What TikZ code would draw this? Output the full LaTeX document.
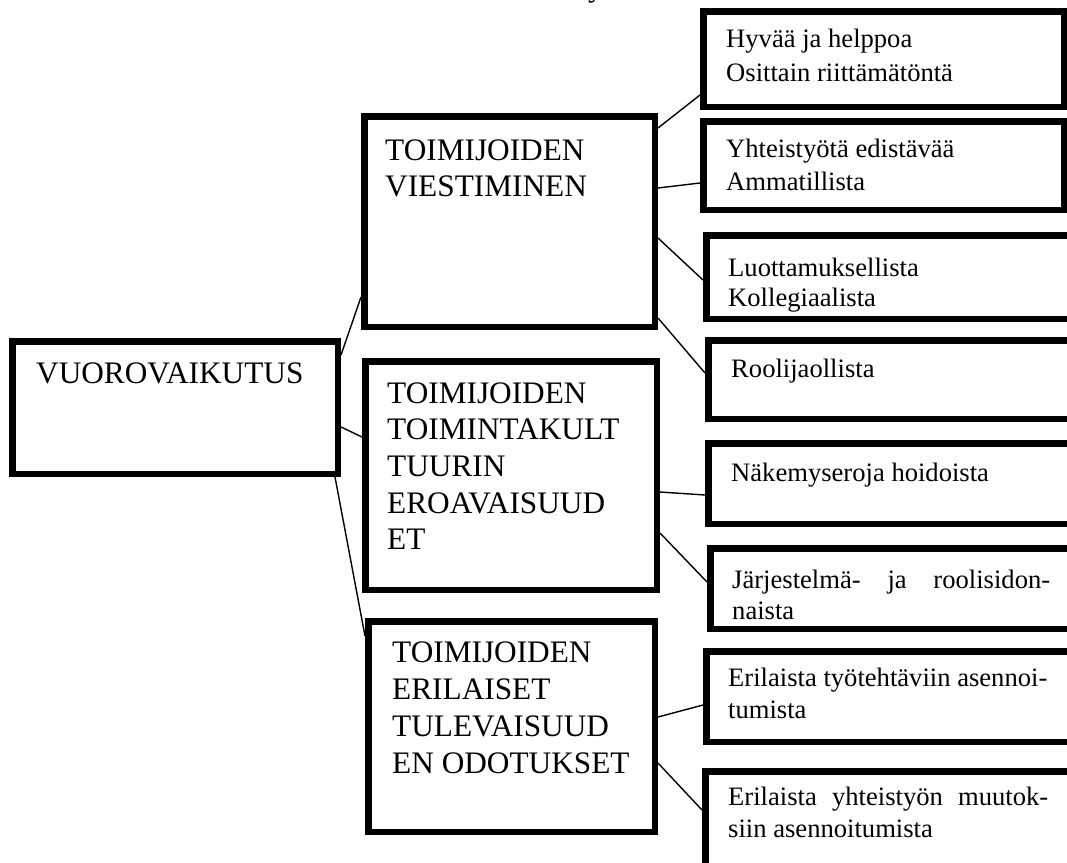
\documentclass[tikz,border=0pt]{standalone}
\usepackage{fontspec}
\setmainfont{Liberation Serif}
\begin{document}
\begin{tikzpicture}[x=1pt,y=-1pt,
  box/.style={draw, fill=white, line width=6.5pt, inner sep=0pt, outer sep=3.25pt, anchor=north west},
  link/.style={line width=1.4pt},
  txt/.style={anchor=base west, inner sep=0pt, align=left},
  big/.style={font=\fontsize{31.3}{36.7}\selectfont}]
\useasboundingbox (0,0) rectangle (1067,862);
\clip (0,0) rectangle (1067,862);

% boxes (outer top-left corner, inner path size)
\node[box, minimum width=325.5pt, minimum height=132.5pt] (root) at (9,338) {};
\node[box, minimum width=290.5pt, minimum height=210.5pt] (v) at (361,113) {};
\node[box, minimum width=291.5pt, minimum height=228.5pt] (t) at (362,358) {};
\node[box, minimum width=286.5pt, minimum height=210.5pt] (e) at (365,618) {};

\node[box, minimum width=360.5pt, minimum height=95.5pt] (b1) at (700,8) {};
\node[box, minimum width=360.5pt, minimum height=88.5pt] (b2) at (700,118) {};
\node[box, minimum width=366.5pt, minimum height=83.5pt] (b3) at (703,232) {};
\node[box, minimum width=364.5pt, minimum height=78.5pt] (b4) at (705,337) {};
\node[box, minimum width=364.5pt, minimum height=80.5pt] (b5) at (705,440) {};
\node[box, minimum width=359.5pt, minimum height=80.5pt] (b6) at (707,545) {};
\node[box, minimum width=366.5pt, minimum height=90.5pt] (b7) at (703,648) {};
\node[box, minimum width=367.5pt, minimum height=105.5pt] (b8) at (702,768) {};

% connectors
\draw[link] ([yshift=-17pt]root.north east) -- ([yshift=33pt]v.south west);
\draw[link] ([yshift=-89pt]root.north east) -- ([yshift=-79pt]t.north west);
\draw[link] ([xshift=-6pt]root.south east) -- ([yshift=-18pt]e.north west);

\draw[link] ([yshift=-15pt]v.north east) -- ([yshift=15pt]b1.south west);
\draw[link] ([yshift=-75pt]v.north east) -- ([yshift=-65pt]b2.north west);
\draw[link] ([yshift=92pt]v.south east) -- ([yshift=-48pt]b3.north west);
\draw[link] ([yshift=12pt]v.south east) -- ([yshift=-36pt]b4.north west);

\draw[link] ([yshift=-134pt]t.north east) -- ([yshift=-55pt]b5.north west);
\draw[link] ([yshift=-175pt]t.north east) -- ([yshift=-37pt]b6.north west);

\draw[link] ([yshift=-99pt]e.north east) -- ([yshift=-57pt]b7.north west);
\draw[link] ([yshift=-145pt]e.north east) -- ([yshift=-42pt]b8.north west);

% texts
\node[txt, big] (ty) at (588,-4) {y};
\node[txt, big] (troot) at (36,383) {VUOROVAIKUTUS};
\node[txt] (tv) at (385,160) {\parbox[t]{270pt}{\fontsize{31.3}{36.7}\selectfont TOIMIJOIDEN\\VIESTIMINEN}};
\node[txt] (tt) at (387,403) {\parbox[t]{270pt}{\fontsize{31.3}{36.7}\selectfont TOIMIJOIDEN\\TOIMINTAKULT\\TUURIN\\EROAVAISUUD\\ET}};
\node[txt] (te) at (392,662) {\parbox[t]{270pt}{\fontsize{31.3}{37}\selectfont TOIMIJOIDEN\\ERILAISET\\TULEVAISUUD\\EN ODOTUKSET}};

\node[txt] (tb1) at (726,47) {\parbox[t]{330pt}{\fontsize{26.6}{34}\selectfont Hyvää ja helppoa\\Osittain riittämätöntä}};
\node[txt] (tb2) at (726,157) {\parbox[t]{330pt}{\fontsize{26.6}{33}\selectfont Yhteistyötä edistävää\\Ammatillista}};
\node[txt] (tb3) at (728,276) {\parbox[t]{330pt}{\fontsize{26.6}{30}\selectfont Luottamuksellista\\Kollegiaalista}};
\node[txt] (tb4) at (731,377) {\parbox[t]{330pt}{\fontsize{26.6}{30}\selectfont Roolijaollista}};
\node[txt] (tb5) at (731,481) {\parbox[t]{330pt}{\fontsize{26.6}{30}\selectfont Näkemyseroja hoidoista}};
\node[txt] (tb6) at (732,588) {\parbox[t]{330pt}{\fontsize{26.6}{31}\selectfont \makebox[318pt][s]{Järjestelmä- ja roolisidon-}\\naista}};
\node[txt] (tb7) at (728,686) {\parbox[t]{330pt}{\fontsize{26.6}{32}\selectfont Erilaista työtehtäviin asennoi-\\tumista}};
\node[txt] (tb8) at (728,805) {\parbox[t]{330pt}{\fontsize{26.6}{32}\selectfont \makebox[320pt][s]{Erilaista yhteistyön muutok-}\\siin asennoitumista}};
\end{tikzpicture}
\end{document}
